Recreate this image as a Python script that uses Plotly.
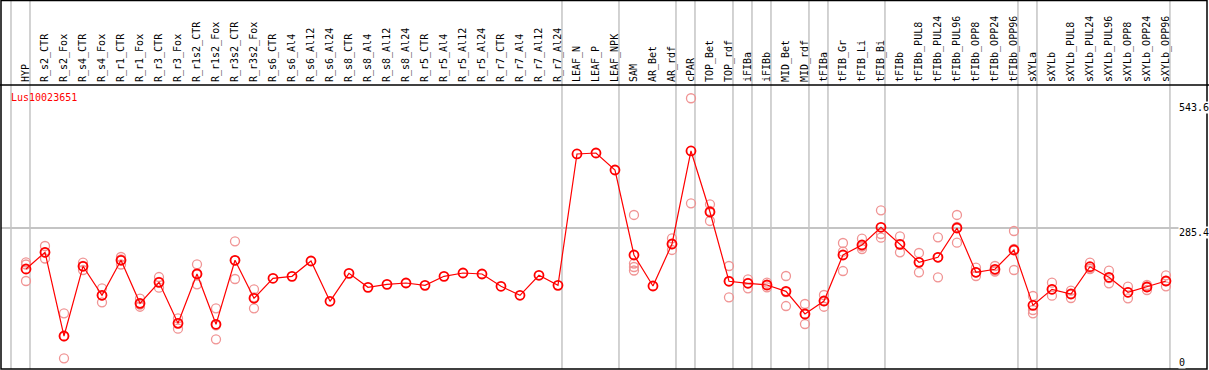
import plotly.graph_objects as go

categories = ["HYP", "R_s2_CTR", "R_s2_Fox", "R_s4_CTR", "R_s4_Fox", "R_r1_CTR", "R_r1_Fox",
              "R_r3_CTR", "R_r3_Fox", "R_r1s2_CTR", "R_r1s2_Fox", "R_r3s2_CTR", "R_r3s2_Fox",
              "R_s6_CTR", "R_s6_Al4", "R_s6_Al12", "R_s6_Al24", "R_s8_CTR", "R_s8_Al4",
              "R_s8_Al12", "R_s8_Al24", "R_r5_CTR", "R_r5_Al4", "R_r5_Al12", "R_r5_Al24",
              "R_r7_CTR", "R_r7_Al4", "R_r7_Al12", "R_r7_Al24", "LEAF_N", "LEAF_P", "LEAF_NPK",
              "SAM", "AR_Bet", "AR_rdf", "cPAR", "TOP_Bet", "TOP_rdf", "iFIBa", "iFIBb",
              "MID_Bet", "MID_rdf", "tFIBa", "tFIB_Gr", "tFIB_Li", "tFIB_Bi", "tFIBb",
              "tFIBb_PUL8", "tFIBb_PUL24", "tFIBb_PUL96", "tFIBb_OPP8", "tFIBb_OPP24",
              "tFIBb_OPP96", "sXYLa", "sXYLb", "sXYLb_PUL8", "sXYLb_PUL24", "sXYLb_PUL96",
              "sXYLb_OPP8", "sXYLb_OPP24", "sXYLb_OPP96"]

mean_values = [198.5, 234.2, 55.5, 204.3, 142.4, 217.1, 125.3, 170.1, 82.6, 187.8, 80.5, 217.1,
               136.0, 178.7, 182.9, 215.6, 129.6, 189.3, 159.4, 165.8, 168.6, 163.7, 182.9,
               190.0, 187.8, 161.6, 142.4, 185.1, 163.7, 444.0, 446.1, 409.8, 228.4, 162.2,
               251.9, 450.4, 320.2, 172.3, 168.0, 164.4, 150.9, 102.5, 130.2, 228.4, 249.7,
               287.5, 251.2, 212.8, 223.5, 286.0, 191.5, 197.9, 239.1, 121.0, 155.2, 145.1,
               203.4, 180.8, 148.8, 160.1, 172.9]

replicates = {
    "HYP": [212.8, 208.1, 172.9],
    "R_s2_CTR": [247.6, 233.7, 220.9],
    "R_s2_Fox": [103.9, 54.6, 7.9],
    "R_s4_CTR": [212.0, 204.9, 196.4],
    "R_s4_Fox": [157.3, 142.4, 127.4],
    "R_r1_CTR": [224.1, 218.8, 208.1],
    "R_r1_Fox": [135.1, 122.7, 118.0],
    "R_r3_CTR": [181.4, 170.8, 158.6],
    "R_r3_Fox": [93.3, 83.2, 71.1],
    "R_r1s2_CTR": [208.5, 188.9, 165.8],
    "R_r1s2_Fox": [114.6, 78.3, 48.5],
    "R_r3s2_CTR": [257.6, 216.4, 177.2],
    "R_r3s2_Fox": [155.2, 138.1, 114.6],
    "SAM": [313.8, 210.2, 202.8, 195.3],
    "AR_rdf": [264.0, 251.9, 239.1],
    "cPAR": [562.9, 338.7],
    "TOP_Bet": [336.6, 322.3, 301.0],
    "TOP_rdf": [204.9, 172.9, 138.1],
    "iFIBa": [176.5, 168.6, 157.3],
    "iFIBb": [169.3, 164.4, 159.4],
    "MID_Bet": [183.6, 149.4, 119.5],
    "MID_rdf": [123.8, 102.5, 81.1],
    "tFIBa": [143.0, 130.2, 118.0],
    "tFIB_Gr": [254.0, 235.4, 194.2],
    "tFIB_Li": [263.2, 241.2, 246.2],
    "tFIB_Bi": [323.8, 273.2, 265.3],
    "tFIBb": [268.3, 251.2, 234.2],
    "tFIBb_PUL8": [232.7, 213.4, 191.5],
    "tFIBb_PUL24": [266.2, 223.5, 180.8],
    "tFIBb_PUL96": [313.8, 288.2, 254.6],
    "tFIBb_OPP8": [201.3, 191.5, 183.6],
    "tFIBb_OPP24": [204.9, 194.9, 192.7],
    "tFIBb_OPP96": [279.6, 241.2, 196.4],
    "sXYLa": [140.9, 111.0, 103.9],
    "sXYLb": [169.3, 155.2, 141.5],
    "sXYLb_PUL8": [152.2, 146.2, 136.6],
    "sXYLb_PUL24": [212.0, 200.0, 198.5],
    "sXYLb_PUL96": [194.9, 179.3, 168.0],
    "sXYLb_OPP8": [160.7, 148.8, 136.0],
    "sXYLb_OPP24": [164.4, 160.1, 153.7],
    "sXYLb_OPP96": [185.1, 172.9, 161.6],
}

# last category of each group (group separators drawn after these)
group_ends = ["HYP", "R_r7_Al24", "LEAF_NPK", "AR_rdf", "cPAR", "TOP_rdf", "iFIBa", "iFIBb",
              "MID_rdf", "tFIBa", "tFIB_Bi", "tFIBb_OPP96", "sXYLa", "sXYLb_OPP96"]

y_labels = [543.6, 285.4, 0]
gene_name = "Lus10023651"

FONT = "DejaVu Sans Mono"
W, H = 1209, 370
ML, MR, MT, MB = 1, 2, 85, 1
plot_h = H - MT - MB
plot_w = W - ML - MR

rep_x, rep_y = [], []
for cat, vals in replicates.items():
    for v in vals:
        rep_x.append(cat)
        rep_y.append(v)

fig = go.Figure()
fig.add_trace(go.Scatter(
    x=rep_x, y=rep_y, mode="markers",
    marker=dict(symbol="circle-open", size=9, color="#F09494", line=dict(width=1.3, color="#F09494")),
    hoverinfo="skip", showlegend=False))
fig.add_trace(go.Scatter(
    x=categories, y=mean_values, mode="lines+markers",
    line=dict(color="#FF0000", width=1.2),
    marker=dict(symbol="circle-open", size=9, color="#FF0000", line=dict(width=1.8, color="#FF0000")),
    showlegend=False))

shapes = []
top_paper = 1 + MT / plot_h
idx = {c: i for i, c in enumerate(categories)}
# first separator before HYP
sep_positions = [-1 + 0.21] + [idx[c] + 0.21 for c in group_ends]
for xp in sep_positions:
    shapes.append(dict(type="line", xref="x", yref="paper", x0=xp, x1=xp, y0=0, y1=top_paper,
                       line=dict(color="#C4C4C4", width=1.5), layer="below"))
# header separator and frame
shapes.append(dict(type="line", xref="paper", yref="paper", x0=-ML / plot_w, x1=1 + MR / plot_w,
                   y0=1, y1=1, line=dict(color="black", width=1.5)))
shapes.append(dict(type="rect", xref="paper", yref="paper", x0=0, x1=1, y0=0, y1=top_paper - 0.5 / plot_h,
                   line=dict(color="black", width=1.5)))

annotations = []
for v in y_labels:
    shift = -4 if v == 285.4 else 0
    annotations.append(dict(xref="paper", yref="y", x=(1178 - ML) / plot_w, y=v,
                            xanchor="left", yanchor="middle", yshift=shift, text=str(v) if v else "0",
                            showarrow=False, bgcolor="white", borderpad=0,
                            font=dict(family=FONT, size=10, color="black")))
annotations.append(dict(xref="paper", yref="paper", x=(9 - ML) / plot_w,
                        y=(H - MB - 97.3) / plot_h, xanchor="left", yanchor="middle",
                        text=gene_name, showarrow=False,
                        font=dict(family=FONT, size=10, color="#FF0000")))

fig.update_layout(
    width=W, height=H,
    margin=dict(l=ML, r=MR, t=MT, b=MB, pad=0),
    paper_bgcolor="white", plot_bgcolor="white",
    font=dict(family=FONT, size=10, color="black"),
    shapes=shapes, annotations=annotations,
    xaxis=dict(type="category", categoryorder="array", categoryarray=categories,
               range=[-1.316, 62.16], side="top", tickangle=-90, showgrid=False,
               zeroline=False, showline=False, ticks="", ticklabelstandoff=2, automargin=False,
               tickfont=dict(family=FONT, size=10, color="black")),
    yaxis=dict(range=[-14.9, 591.2], showticklabels=False, tickvals=[285.4], automargin=False,
               showgrid=True, gridcolor="#C4C4C4", gridwidth=1.5, zeroline=False, showline=False),
)

fig.write_html("out.html", config={"displayModeBar": False},
               post_script="document.body.style.margin='0';document.body.style.padding='0';"
                           "document.body.style.overflow='hidden';")
